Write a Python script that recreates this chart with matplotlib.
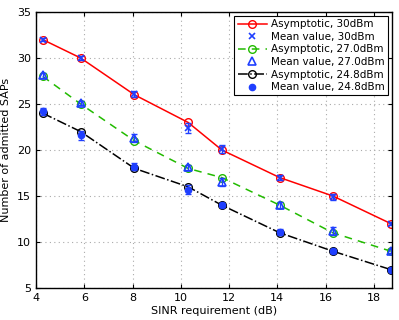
import matplotlib
matplotlib.use("Agg")
import matplotlib.pyplot as plt

x = [4.28, 5.85, 8.08, 10.3, 11.7, 14.1, 16.3, 18.7]

asym_30 = [32, 30, 26, 23, 20, 17, 15, 12]
mean_30 = [32.0, 30.0, 26.1, 22.4, 20.1, 17.0, 14.9, 12.0]
err_30 = [0.2, 0.2, 0.35, 0.5, 0.4, 0.25, 0.3, 0.2]

asym_27 = [28, 25, 21, 18, 17, 14, 11, 9]
mean_27 = [28.1, 25.1, 21.3, 18.1, 16.5, 14.0, 11.2, 9.0]
err_27 = [0.25, 0.25, 0.4, 0.3, 0.45, 0.3, 0.45, 0.2]

asym_24 = [24, 22, 18, 16, 14, 11, 9, 7]
mean_24 = [24.2, 21.6, 18.2, 15.7, 14.0, 11.1, 9.0, 7.0]
err_24 = [0.4, 0.5, 0.35, 0.45, 0.2, 0.35, 0.2, 0.2]

labels = ["Asymptotic, 30dBm", "Mean value, 30dBm",
          "Asymptotic, 27.0dBm", "Mean value, 27.0dBm",
          "Asymptotic, 24.8dBm", "Mean value, 24.8dBm"]

plt.rcParams['font.family'] = ['DejaVu Sans']
fig = plt.figure(figsize=(3.99, 3.2), dpi=100)
ax = fig.add_axes([36/399, 32/320, 356/399, 276/320])

blue = '#1f3fff'
green = '#22bb00'

h1, = ax.plot(x, asym_30, '-', color='red', marker='o', mfc='none', mec='red', ms=5.5, lw=1.1)
ax.errorbar(x, mean_30, yerr=err_30, fmt='none', ecolor=blue, elinewidth=1, capsize=2.5)
h2, = ax.plot(x, mean_30, 'x', color=blue, ms=4.5, mew=1.2, ls='none')

h3, = ax.plot(x, asym_27, '--', color=green, marker='o', mfc='none', mec=green, ms=5.5, lw=1.1, dashes=(5, 4))
ax.errorbar(x, mean_27, yerr=err_27, fmt='none', ecolor=blue, elinewidth=1, capsize=2.5)
h4, = ax.plot(x, mean_27, '^', color=blue, mfc='none', ms=5.5, mew=1.2, ls='none')

h5, = ax.plot(x, asym_24, '-.', color='black', marker='o', mfc='none', mec='black', ms=5.5, lw=1.1)
ax.errorbar(x, mean_24, yerr=err_24, fmt='none', ecolor=blue, elinewidth=1, capsize=2.5)
h6, = ax.plot(x, mean_24, 'o', color=blue, ms=4.5, ls='none')

ax.set_xlim(4, 18.75)
ax.set_ylim(5, 35)
ax.set_xticks([4, 6, 8, 10, 12, 14, 16, 18])
ax.set_yticks([5, 10, 15, 20, 25, 30, 35])
ax.grid(True, ls=(0, (1, 3)), color='#aaaaaa', lw=0.8)
ax.tick_params(direction='in', labelsize=8, length=3, top=True, right=True)
for s in ax.spines.values():
    s.set_linewidth(1.0)
ax.set_xlabel("SINR requirement (dB)", fontsize=8, labelpad=2)
ax.set_ylabel("Number of admitted SAPs", fontsize=8, labelpad=4)

leg = ax.legend([h1, h2, h3, h4, h5, h6], labels, loc='upper right', fontsize=7.5,
                frameon=True, fancybox=False, edgecolor='black', framealpha=1,
                handlelength=2.8, borderpad=0.3, labelspacing=0.25, handletextpad=0.4,
                borderaxespad=0.4)
leg.get_frame().set_linewidth(0.8)

fig.savefig("out.png", dpi=100)
